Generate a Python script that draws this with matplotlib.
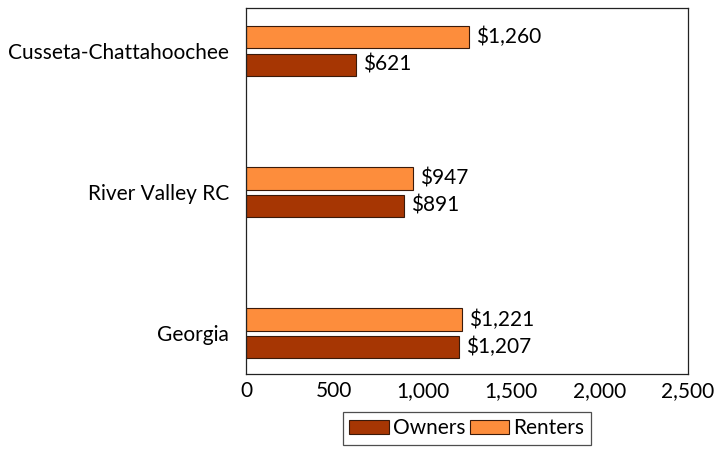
import matplotlib
matplotlib.use("Agg")
import matplotlib.pyplot as plt
import numpy as np

plt.rcParams['font.family'] = ['Lato', 'DejaVu Sans']

categories = ["Georgia", "River Valley RC", "Cusseta-Chattahoochee"]
owners = [1207, 891, 621]
renters = [1221, 947, 1260]
xticks = [0, 500, 1000, 1500, 2000, 2500]

owner_color = "#a63603"
renter_color = "#fd8d3c"

fig = plt.figure(figsize=(7.14, 4.49), dpi=100)
ax = fig.add_axes([246 / 714, 1 - 374 / 449, 442 / 714, 366 / 449])

y = np.arange(len(categories))
h = 0.158
off = 0.097
b_own = ax.barh(y - off, owners, height=h, color=owner_color,
                edgecolor="#3a1a0a", linewidth=0.8, label="Owners")
b_ren = ax.barh(y + off, renters, height=h, color=renter_color,
                edgecolor="#3a1a0a", linewidth=0.8, label="Renters")

fs = 15
for bars, vals in ((b_own, owners), (b_ren, renters)):
    for bar, v in zip(bars, vals):
        ax.text(v + 40, bar.get_y() + bar.get_height() / 2, "${:,}".format(v),
                va="center", ha="left", fontsize=fs)

ax.set_xlim(0, 2500)
ax.set_ylim(-0.29, 2.305)
ax.set_yticks(y)
ax.set_yticklabels(categories, fontsize=fs)
ax.set_xticks(xticks)
ax.set_xticklabels(["{:,}".format(t) for t in xticks], fontsize=fs)
ax.tick_params(axis="y", length=0, pad=12)
ax.tick_params(axis="x", length=0, pad=5)
for s in ax.spines.values():
    s.set_linewidth(0.9)
    s.set_color("#222222")

leg = fig.legend(handles=[b_own, b_ren], loc="upper center",
                 bbox_to_anchor=(467 / 714, 1 - 412 / 449), ncol=2,
                 fontsize=fs, frameon=True, fancybox=False, edgecolor="#222222",
                 handlelength=1.9, handleheight=0.6, handletextpad=0.2,
                 columnspacing=0.2, borderpad=0.3, borderaxespad=0)
leg.get_frame().set_linewidth(0.9)

fig.savefig("out.png", dpi=100)
